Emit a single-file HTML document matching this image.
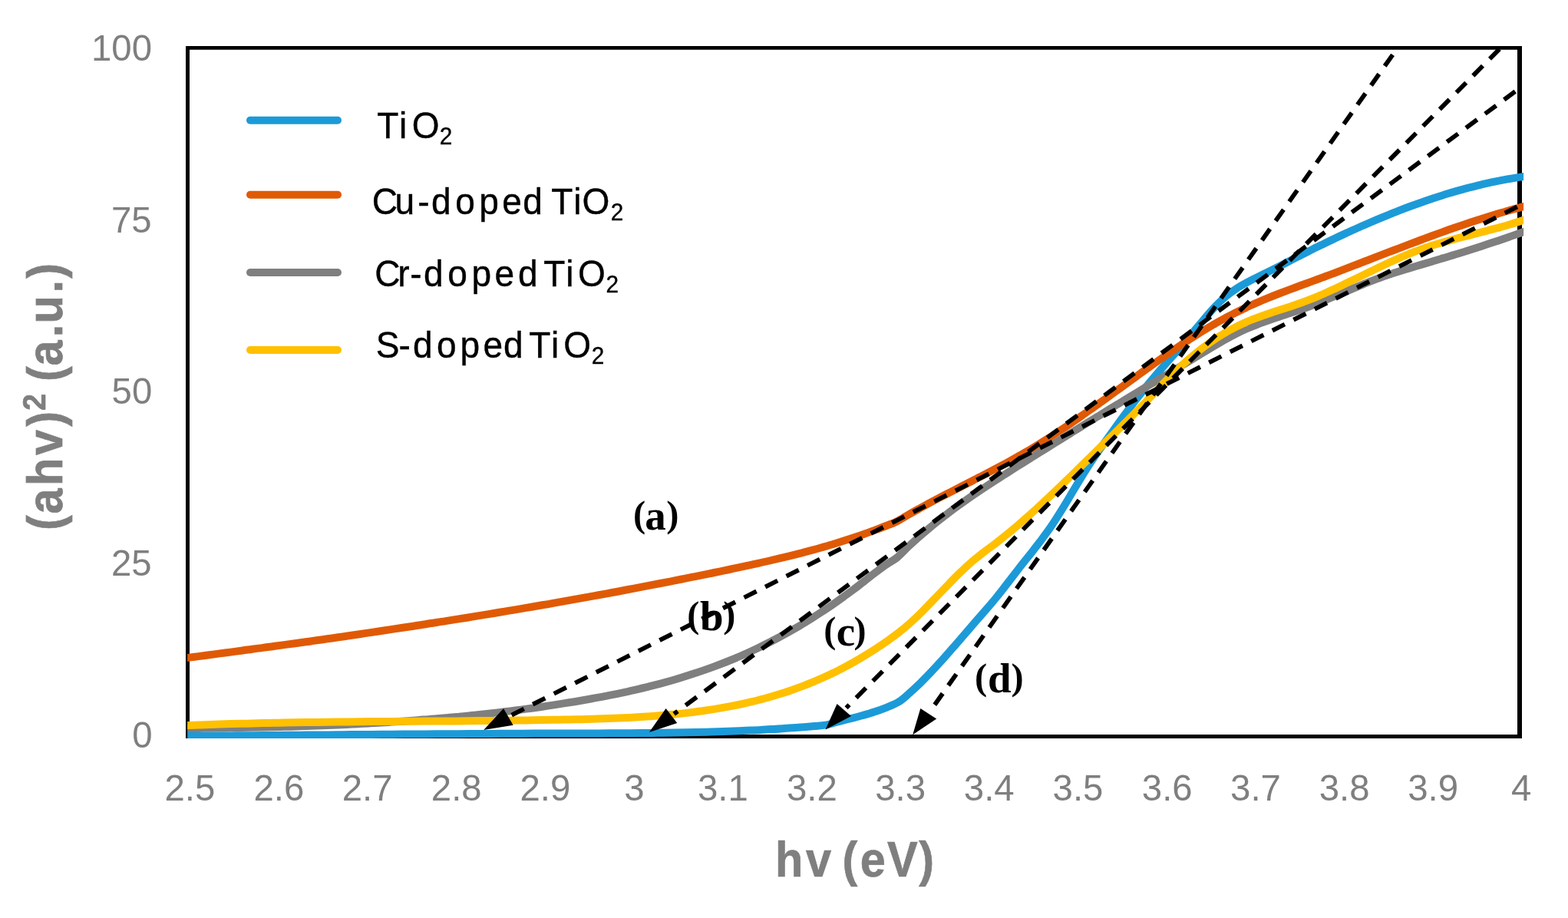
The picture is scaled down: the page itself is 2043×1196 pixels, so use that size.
<!DOCTYPE html>
<html><head><meta charset="utf-8"><title>Tauc plot</title>
<style>html,body{margin:0;padding:0;background:#fff}body{width:2043px;height:1196px;overflow:hidden}svg{display:block}
text{font-family:"Liberation Sans",sans-serif}
.ax{fill:#7f7f7f;font-size:48px}
.tt{fill:#7f7f7f;font-size:64px;font-weight:bold;stroke:#7f7f7f;stroke-width:.7px}
.lg{fill:#000;font-size:48px;stroke:#000;stroke-width:.4px}
.an{fill:#000;font-family:"Liberation Serif",serif;font-weight:bold}
</style></head><body>
<svg width="2043" height="1196" viewBox="0 0 2043 1196">
<rect width="2043" height="1196" fill="#fff"/>
<path d="M242 60H1983V961.9H242Z M247 64.8V957.1H1977V64.8Z" fill="#000" fill-rule="evenodd"/>
<clipPath id="cp"><rect x="244.2" y="55" width="1740.9" height="907"/></clipPath>
<g clip-path="url(#cp)" fill="none" stroke-width="10" stroke-linejoin="round">
<path d="M234.5 959.0C236.2 959.0 240.5 958.9 244.5 958.9C248.5 958.9 253.9 958.8 258.6 958.8C263.3 958.7 268.0 958.7 272.7 958.7C277.4 958.6 282.1 958.6 286.8 958.5C291.4 958.5 296.1 958.5 300.8 958.4C305.5 958.4 310.2 958.3 314.9 958.3C319.6 958.3 324.3 958.2 329.0 958.2C333.7 958.1 338.4 958.1 343.1 958.1C347.8 958.0 352.5 958.0 357.2 957.9C361.9 957.9 366.6 957.9 371.3 957.8C376.0 957.8 380.7 957.7 385.3 957.7C390.0 957.7 394.7 957.6 399.4 957.6C404.1 957.6 408.8 957.5 413.5 957.5C418.2 957.4 422.9 957.4 427.6 957.4C432.3 957.3 437.0 957.3 441.7 957.3C446.4 957.2 451.1 957.2 455.8 957.1C460.5 957.1 465.2 957.1 469.9 957.0C474.6 957.0 479.2 957.0 483.9 956.9C488.6 956.9 493.3 956.9 498.0 956.8C502.7 956.8 507.4 956.8 512.1 956.7C516.8 956.7 521.5 956.7 526.2 956.6C530.9 956.6 535.6 956.6 540.3 956.5C545.0 956.5 549.7 956.5 554.4 956.4C559.1 956.4 563.8 956.4 568.4 956.3C573.1 956.3 577.8 956.3 582.5 956.2C587.2 956.2 591.9 956.2 596.6 956.2C601.3 956.1 606.0 956.1 610.7 956.1C615.4 956.0 620.1 956.0 624.8 956.0C629.5 956.0 634.2 955.9 638.9 955.9C643.6 955.9 648.3 955.9 653.0 955.8C657.7 955.8 662.3 955.8 667.0 955.8C671.7 955.8 676.4 955.7 681.1 955.7C685.8 955.7 690.5 955.7 695.2 955.6C699.9 955.6 704.6 955.6 709.3 955.6C714.0 955.6 718.7 955.5 723.4 955.5C728.1 955.5 732.8 955.5 737.5 955.5C742.2 955.5 746.9 955.5 751.6 955.4C756.2 955.4 760.9 955.4 765.6 955.4C770.3 955.4 775.0 955.4 779.7 955.4C784.4 955.3 789.1 955.3 793.8 955.3C798.5 955.3 803.2 955.3 807.9 955.2C812.6 955.2 817.3 955.2 822.0 955.2C826.7 955.1 831.4 955.1 836.1 955.1C840.8 955.0 845.4 955.0 850.1 954.9C854.8 954.9 859.5 954.8 864.2 954.8C868.9 954.7 873.6 954.6 878.3 954.6C883.0 954.5 887.7 954.4 892.4 954.3C897.1 954.2 901.8 954.1 906.5 954.0C911.2 953.9 915.9 953.8 920.6 953.7C925.3 953.5 930.0 953.4 934.7 953.3C939.3 953.1 944.0 953.0 948.7 952.8C953.4 952.6 958.1 952.4 962.8 952.2C967.5 952.0 972.2 951.8 976.9 951.6C981.6 951.4 986.3 951.2 991.0 950.9C995.7 950.7 1000.4 950.4 1005.1 950.1C1009.8 949.9 1014.5 949.6 1019.2 949.3C1023.9 948.9 1028.6 948.6 1033.2 948.3C1037.9 947.9 1042.6 947.6 1047.3 947.2C1052.0 946.8 1056.7 946.4 1061.4 946.0C1066.1 945.6 1070.5 945.6 1075.5 944.7C1080.5 943.8 1086.1 941.9 1091.4 940.5C1096.7 939.1 1102.0 937.9 1107.3 936.5C1112.6 935.1 1117.9 933.8 1123.2 932.3C1128.4 930.8 1133.7 929.3 1139.0 927.5C1144.3 925.8 1149.6 923.9 1154.9 921.8C1160.2 919.6 1165.8 917.7 1170.8 914.6C1175.8 911.5 1180.3 907.1 1185.0 903.0C1189.7 898.8 1194.4 894.4 1199.2 889.8C1203.9 885.2 1208.6 880.3 1213.4 875.3C1218.1 870.3 1222.8 865.1 1227.6 859.9C1232.3 854.7 1237.0 849.3 1241.7 843.8C1246.5 838.4 1251.2 832.9 1255.9 827.5C1260.7 822.0 1265.4 816.5 1270.1 811.0C1274.9 805.6 1279.6 800.3 1284.3 794.8C1289.0 789.3 1293.8 783.9 1298.5 778.0C1303.2 772.2 1308.0 766.0 1312.7 759.9C1317.4 753.8 1322.2 747.5 1326.9 741.5C1331.6 735.4 1336.3 729.6 1341.1 723.6C1345.8 717.6 1350.5 711.7 1355.3 705.4C1360.0 699.1 1364.7 692.8 1369.5 685.9C1374.2 679.0 1378.9 671.5 1383.6 663.9C1388.4 656.3 1393.1 648.2 1397.8 640.3C1402.6 632.4 1407.3 624.3 1412.0 616.8C1416.8 609.2 1421.5 601.9 1426.2 595.0C1430.9 588.0 1435.7 581.5 1440.4 574.9C1445.1 568.2 1449.9 561.7 1454.6 555.2C1459.3 548.7 1464.0 542.2 1468.8 535.9C1473.5 529.5 1478.2 523.2 1483.0 517.2C1487.7 511.1 1492.4 505.1 1497.2 499.3C1501.9 493.6 1506.6 488.1 1511.3 482.6C1516.1 477.1 1520.8 471.8 1525.5 466.5C1530.3 461.1 1535.0 455.9 1539.7 450.4C1544.5 444.9 1549.2 439.4 1553.9 433.7C1558.6 428.1 1563.4 422.2 1568.1 416.7C1572.8 411.1 1577.6 405.5 1582.3 400.5C1587.0 395.5 1591.8 390.8 1596.5 386.8C1601.2 382.7 1605.9 379.3 1610.7 376.2C1615.4 373.1 1620.1 370.5 1624.9 367.9C1629.6 365.3 1634.3 363.1 1639.1 360.8C1643.8 358.4 1648.5 356.1 1653.2 353.8C1658.0 351.4 1662.7 349.0 1667.4 346.6C1672.2 344.2 1676.9 341.7 1681.6 339.3C1686.4 336.9 1691.1 334.4 1695.8 332.0C1700.5 329.6 1705.3 327.3 1710.0 324.9C1714.7 322.5 1719.5 320.2 1724.2 317.9C1728.9 315.6 1733.6 313.3 1738.4 311.1C1743.1 308.8 1747.8 306.6 1752.6 304.4C1757.3 302.3 1762.0 300.1 1766.8 298.0C1771.5 295.8 1776.2 293.8 1780.9 291.7C1785.7 289.6 1790.4 287.6 1795.1 285.6C1799.9 283.6 1804.6 281.7 1809.3 279.8C1814.1 277.9 1818.8 276.0 1823.5 274.2C1828.2 272.3 1833.0 270.5 1837.7 268.8C1842.4 267.0 1847.2 265.3 1851.9 263.7C1856.6 262.0 1861.4 260.4 1866.1 258.8C1870.8 257.2 1875.5 255.7 1880.3 254.2C1885.0 252.8 1889.7 251.3 1894.5 249.9C1899.2 248.6 1903.9 247.2 1908.7 245.9C1913.4 244.7 1918.1 243.4 1922.8 242.3C1927.6 241.1 1932.3 240.0 1937.0 238.9C1941.8 237.9 1946.5 236.8 1951.2 235.9C1956.0 235.0 1960.7 234.1 1965.4 233.2C1970.1 232.4 1975.2 231.6 1979.6 230.9C1984.0 230.2 1989.6 229.3 1991.6 229.0" stroke="#1c9ad8"/>
<path d="M234.5 858.2C236.2 858.0 240.5 857.4 244.5 856.9C248.5 856.4 253.8 855.7 258.5 855.1C263.2 854.5 267.8 853.9 272.5 853.3C277.2 852.7 281.8 852.0 286.5 851.4C291.2 850.8 295.8 850.2 300.5 849.6C305.2 849.0 309.8 848.3 314.5 847.7C319.2 847.1 323.9 846.5 328.5 845.8C333.2 845.2 337.9 844.6 342.5 843.9C347.2 843.3 351.9 842.7 356.5 842.0C361.2 841.4 365.9 840.7 370.5 840.1C375.2 839.5 379.9 838.8 384.5 838.2C389.2 837.5 393.9 836.9 398.5 836.2C403.2 835.6 407.9 834.9 412.5 834.2C417.2 833.6 421.9 832.9 426.5 832.2C431.2 831.6 435.9 830.9 440.5 830.2C445.2 829.6 449.9 828.9 454.5 828.2C459.2 827.5 463.9 826.9 468.5 826.2C473.2 825.5 477.9 824.8 482.6 824.1C487.2 823.4 491.9 822.7 496.6 822.0C501.2 821.3 505.9 820.6 510.6 819.9C515.2 819.2 519.9 818.5 524.6 817.8C529.2 817.1 533.9 816.4 538.6 815.7C543.2 814.9 547.9 814.2 552.6 813.5C557.2 812.8 561.9 812.1 566.6 811.3C571.2 810.6 575.9 809.9 580.6 809.1C585.2 808.4 589.9 807.6 594.6 806.9C599.2 806.2 603.9 805.4 608.6 804.7C613.2 803.9 617.9 803.1 622.6 802.4C627.2 801.6 631.9 800.9 636.6 800.1C641.3 799.3 645.9 798.6 650.6 797.8C655.3 797.0 659.9 796.2 664.6 795.4C669.3 794.7 673.9 793.9 678.6 793.1C683.3 792.3 687.9 791.5 692.6 790.7C697.3 789.9 701.9 789.1 706.6 788.3C711.3 787.5 715.9 786.7 720.6 785.8C725.3 785.0 729.9 784.2 734.6 783.4C739.3 782.6 743.9 781.7 748.6 780.9C753.3 780.1 757.9 779.2 762.6 778.4C767.3 777.5 771.9 776.7 776.6 775.8C781.3 775.0 786.0 774.1 790.6 773.3C795.3 772.4 800.0 771.5 804.6 770.7C809.3 769.8 814.0 768.9 818.6 768.0C823.3 767.2 828.0 766.3 832.6 765.4C837.3 764.5 842.0 763.6 846.6 762.7C851.3 761.8 856.0 760.9 860.6 760.0C865.3 759.1 870.0 758.2 874.6 757.3C879.3 756.4 884.0 755.4 888.6 754.5C893.3 753.6 898.0 752.6 902.6 751.7C907.3 750.8 912.0 749.8 916.6 748.9C921.3 747.9 926.0 747.0 930.6 746.0C935.3 745.0 940.0 744.1 944.7 743.1C949.3 742.1 954.0 741.2 958.7 740.2C963.3 739.2 968.0 738.2 972.7 737.2C977.3 736.2 982.0 735.2 986.7 734.1C991.3 733.1 996.0 732.1 1000.7 731.0C1005.3 729.9 1010.0 728.8 1014.7 727.7C1019.3 726.6 1024.0 725.5 1028.7 724.4C1033.3 723.2 1038.0 722.0 1042.7 720.8C1047.3 719.6 1052.0 718.4 1056.7 717.1C1061.3 715.9 1066.0 714.6 1070.7 713.2C1075.3 711.9 1080.0 710.6 1084.7 709.2C1089.3 707.8 1094.0 706.3 1098.7 704.8C1103.4 703.4 1108.0 701.9 1112.7 700.3C1117.4 698.7 1122.0 697.1 1126.7 695.5C1131.4 693.8 1136.0 692.2 1140.7 690.4C1145.4 688.7 1150.0 686.9 1154.7 685.0C1159.4 683.2 1164.0 681.7 1168.7 679.3C1173.4 677.0 1178.2 673.7 1182.9 671.0C1187.7 668.2 1192.4 665.6 1197.2 663.0C1201.9 660.3 1206.6 657.8 1211.4 655.2C1216.1 652.7 1220.9 650.2 1225.6 647.7C1230.3 645.2 1235.1 642.8 1239.8 640.3C1244.6 637.9 1249.3 635.5 1254.1 633.0C1258.8 630.6 1263.5 628.2 1268.3 625.7C1273.0 623.3 1277.8 620.9 1282.5 618.4C1287.3 615.9 1292.0 613.4 1296.7 610.9C1301.5 608.4 1306.2 605.9 1311.0 603.3C1315.7 600.7 1320.4 598.1 1325.2 595.4C1329.9 592.8 1334.7 590.0 1339.4 587.3C1344.2 584.5 1348.9 581.6 1353.6 578.7C1358.4 575.8 1363.1 572.8 1367.9 569.8C1372.6 566.7 1377.4 563.6 1382.1 560.4C1386.8 557.3 1391.6 554.1 1396.3 550.8C1401.1 547.6 1405.8 544.3 1410.5 540.9C1415.3 537.6 1420.0 534.2 1424.8 530.8C1429.5 527.5 1434.3 524.0 1439.0 520.6C1443.7 517.2 1448.5 513.7 1453.2 510.3C1458.0 506.8 1462.7 503.4 1467.5 499.9C1472.2 496.5 1476.9 493.0 1481.7 489.6C1486.4 486.2 1491.2 482.7 1495.9 479.4C1500.6 476.0 1505.4 472.6 1510.1 469.2C1514.9 465.9 1519.6 462.6 1524.4 459.3C1529.1 456.0 1533.8 452.8 1538.6 449.6C1543.3 446.5 1548.1 443.3 1552.8 440.3C1557.6 437.2 1562.3 434.2 1567.0 431.3C1571.8 428.4 1576.5 425.6 1581.3 422.8C1586.0 420.1 1590.7 417.4 1595.5 414.9C1600.2 412.3 1605.0 409.9 1609.7 407.5C1614.5 405.1 1619.2 402.8 1623.9 400.6C1628.7 398.4 1633.4 396.2 1638.2 394.2C1642.9 392.1 1647.7 390.1 1652.4 388.2C1657.1 386.2 1661.9 384.3 1666.6 382.5C1671.4 380.7 1676.1 378.9 1680.8 377.1C1685.6 375.3 1690.3 373.6 1695.1 371.8C1699.8 370.1 1704.6 368.3 1709.3 366.6C1714.0 364.9 1718.8 363.1 1723.5 361.4C1728.3 359.6 1733.0 357.8 1737.8 356.1C1742.5 354.3 1747.2 352.5 1752.0 350.7C1756.7 348.9 1761.5 347.0 1766.2 345.2C1770.9 343.4 1775.7 341.6 1780.4 339.7C1785.2 337.9 1789.9 336.1 1794.7 334.2C1799.4 332.4 1804.1 330.6 1808.9 328.7C1813.6 326.9 1818.4 325.1 1823.1 323.3C1827.9 321.5 1832.6 319.7 1837.3 317.9C1842.1 316.1 1846.8 314.3 1851.6 312.5C1856.3 310.7 1861.0 309.0 1865.8 307.2C1870.5 305.5 1875.3 303.8 1880.0 302.1C1884.8 300.4 1889.5 298.7 1894.2 297.1C1899.0 295.4 1903.7 293.8 1908.5 292.2C1913.2 290.6 1918.0 289.0 1922.7 287.4C1927.4 285.9 1932.2 284.4 1936.9 282.9C1941.7 281.4 1946.4 280.0 1951.1 278.6C1955.9 277.2 1960.6 275.8 1965.4 274.5C1970.1 273.1 1975.2 271.8 1979.6 270.6C1984.0 269.4 1989.6 267.9 1991.6 267.3" stroke="#e05a05"/>
<path d="M234.5 949.1C236.2 949.1 240.5 949.0 244.5 949.0C248.5 949.0 253.8 948.9 258.5 948.9C263.2 948.8 267.8 948.8 272.5 948.7C277.2 948.6 281.8 948.6 286.5 948.5C291.2 948.5 295.8 948.4 300.5 948.3C305.2 948.2 309.8 948.2 314.5 948.1C319.2 948.0 323.9 947.9 328.5 947.8C333.2 947.7 337.9 947.6 342.5 947.5C347.2 947.4 351.9 947.3 356.5 947.2C361.2 947.1 365.9 947.0 370.5 946.8C375.2 946.7 379.9 946.6 384.5 946.4C389.2 946.3 393.9 946.1 398.5 946.0C403.2 945.8 407.9 945.7 412.5 945.5C417.2 945.3 421.9 945.1 426.5 945.0C431.2 944.8 435.9 944.6 440.5 944.4C445.2 944.2 449.9 944.0 454.5 943.7C459.2 943.5 463.9 943.3 468.5 943.0C473.2 942.8 477.9 942.6 482.6 942.3C487.2 942.0 491.9 941.8 496.6 941.5C501.2 941.2 505.9 940.9 510.6 940.6C515.2 940.3 519.9 940.0 524.6 939.7C529.2 939.4 533.9 939.0 538.6 938.7C543.2 938.4 547.9 938.0 552.6 937.6C557.2 937.3 561.9 936.9 566.6 936.5C571.2 936.1 575.9 935.7 580.6 935.3C585.2 934.9 589.9 934.5 594.6 934.0C599.2 933.6 603.9 933.1 608.6 932.6C613.2 932.2 617.9 931.7 622.6 931.2C627.2 930.7 631.9 930.2 636.6 929.7C641.3 929.2 645.9 928.6 650.6 928.1C655.3 927.5 659.9 926.9 664.6 926.4C669.3 925.8 673.9 925.2 678.6 924.6C683.3 924.0 687.9 923.3 692.6 922.7C697.3 922.0 701.9 921.4 706.6 920.7C711.3 920.0 715.9 919.3 720.6 918.6C725.3 917.9 729.9 917.2 734.6 916.4C739.3 915.7 743.9 914.9 748.6 914.2C753.3 913.4 757.9 912.6 762.6 911.8C767.3 910.9 771.9 910.1 776.6 909.2C781.3 908.4 786.0 907.5 790.6 906.6C795.3 905.7 800.0 904.7 804.6 903.8C809.3 902.8 814.0 901.8 818.6 900.8C823.3 899.7 828.0 898.7 832.6 897.6C837.3 896.5 842.0 895.4 846.6 894.2C851.3 893.0 856.0 891.8 860.6 890.6C865.3 889.3 870.0 888.0 874.6 886.7C879.3 885.3 884.0 884.0 888.6 882.5C893.3 881.1 898.0 879.6 902.6 878.1C907.3 876.6 912.0 875.0 916.6 873.4C921.3 871.8 926.0 870.1 930.6 868.4C935.3 866.6 940.0 864.8 944.7 863.0C949.3 861.1 954.0 859.2 958.7 857.3C963.3 855.3 968.0 853.3 972.7 851.2C977.3 849.1 982.0 846.9 986.7 844.7C991.3 842.5 996.0 840.2 1000.7 837.8C1005.3 835.5 1010.0 833.0 1014.7 830.5C1019.3 828.1 1024.0 825.5 1028.7 822.9C1033.3 820.2 1038.0 817.5 1042.7 814.8C1047.3 812.0 1052.0 809.1 1056.7 806.2C1061.3 803.3 1066.0 800.3 1070.7 797.2C1075.3 794.2 1080.0 791.0 1084.7 787.8C1089.3 784.6 1094.0 781.3 1098.7 777.9C1103.4 774.6 1108.0 771.1 1112.7 767.6C1117.4 764.1 1122.0 760.4 1126.7 756.8C1131.4 753.1 1136.0 749.4 1140.7 745.8C1145.4 742.3 1150.0 738.7 1154.7 735.5C1159.4 732.2 1164.0 730.3 1168.7 726.5C1173.4 722.7 1178.2 717.2 1182.9 712.7C1187.7 708.3 1192.4 704.0 1197.2 699.8C1201.9 695.6 1206.6 691.6 1211.4 687.6C1216.1 683.7 1220.9 679.9 1225.6 676.1C1230.3 672.4 1235.1 668.8 1239.8 665.2C1244.6 661.7 1249.3 658.2 1254.1 654.9C1258.8 651.5 1263.5 648.2 1268.3 644.9C1273.0 641.7 1277.8 638.5 1282.5 635.3C1287.3 632.2 1292.0 629.1 1296.7 626.0C1301.5 623.0 1306.2 619.9 1311.0 616.9C1315.7 613.9 1320.4 610.9 1325.2 607.9C1329.9 605.0 1334.7 602.0 1339.4 599.0C1344.2 596.0 1348.9 593.1 1353.6 590.1C1358.4 587.1 1363.1 584.2 1367.9 581.2C1372.6 578.3 1377.4 575.3 1382.1 572.4C1386.8 569.4 1391.6 566.5 1396.3 563.5C1401.1 560.6 1405.8 557.7 1410.5 554.7C1415.3 551.8 1420.0 548.9 1424.8 546.0C1429.5 543.1 1434.3 540.2 1439.0 537.2C1443.7 534.3 1448.5 531.4 1453.2 528.5C1458.0 525.7 1462.7 522.8 1467.5 519.9C1472.2 517.0 1476.9 514.1 1481.7 511.2C1486.4 508.4 1491.2 505.5 1495.9 502.6C1500.6 499.8 1505.4 496.9 1510.1 494.1C1514.9 491.2 1519.6 488.4 1524.4 485.5C1529.1 482.7 1533.8 479.8 1538.6 477.0C1543.3 474.1 1548.1 471.3 1552.8 468.4C1557.6 465.5 1562.3 462.6 1567.0 459.7C1571.8 456.9 1576.5 453.9 1581.3 451.1C1586.0 448.3 1590.7 445.5 1595.5 442.8C1600.2 440.2 1605.0 437.6 1609.7 435.2C1614.5 432.8 1619.2 430.6 1623.9 428.5C1628.7 426.4 1633.4 424.5 1638.2 422.7C1642.9 420.9 1647.7 419.2 1652.4 417.5C1657.1 415.9 1661.9 414.3 1666.6 412.7C1671.4 411.2 1676.1 409.6 1680.8 408.1C1685.6 406.5 1690.3 404.9 1695.1 403.2C1699.8 401.5 1704.6 399.8 1709.3 398.0C1714.0 396.2 1718.8 394.3 1723.5 392.4C1728.3 390.4 1733.0 388.5 1737.8 386.5C1742.5 384.5 1747.2 382.5 1752.0 380.5C1756.7 378.5 1761.5 376.4 1766.2 374.5C1770.9 372.5 1775.7 370.5 1780.4 368.6C1785.2 366.7 1789.9 364.9 1794.7 363.1C1799.4 361.4 1804.1 359.7 1808.9 358.1C1813.6 356.4 1818.4 354.9 1823.1 353.4C1827.9 352.0 1832.6 350.5 1837.3 349.1C1842.1 347.7 1846.8 346.3 1851.6 344.9C1856.3 343.5 1861.0 342.1 1865.8 340.7C1870.5 339.2 1875.3 337.8 1880.0 336.4C1884.8 335.0 1889.5 333.5 1894.2 332.1C1899.0 330.6 1903.7 329.1 1908.5 327.7C1913.2 326.2 1918.0 324.7 1922.7 323.2C1927.4 321.7 1932.2 320.1 1936.9 318.6C1941.7 317.0 1946.4 315.5 1951.1 313.9C1955.9 312.3 1960.6 310.7 1965.4 309.0C1970.1 307.4 1975.2 305.5 1979.6 304.0C1984.0 302.4 1989.6 300.5 1991.6 299.8" stroke="#7f7f7f"/>
<path d="M234.5 945.5C236.2 945.4 240.5 945.3 244.5 945.1C248.5 944.9 253.9 944.7 258.5 944.5C263.2 944.4 267.9 944.2 272.6 944.0C277.2 943.9 281.9 943.7 286.6 943.6C291.3 943.4 296.0 943.3 300.6 943.1C305.3 943.0 310.0 942.9 314.7 942.8C319.4 942.6 324.0 942.5 328.7 942.4C333.4 942.3 338.1 942.2 342.7 942.1C347.4 942.0 352.1 941.9 356.8 941.8C361.5 941.7 366.1 941.6 370.8 941.5C375.5 941.4 380.2 941.3 384.8 941.3C389.5 941.2 394.2 941.1 398.9 941.1C403.6 941.0 408.2 940.9 412.9 940.9C417.6 940.8 422.3 940.7 427.0 940.7C431.6 940.6 436.3 940.6 441.0 940.5C445.7 940.5 450.3 940.4 455.0 940.4C459.7 940.3 464.4 940.3 469.1 940.3C473.7 940.2 478.4 940.2 483.1 940.1C487.8 940.1 492.4 940.1 497.1 940.0C501.8 940.0 506.5 940.0 511.2 939.9C515.8 939.9 520.5 939.9 525.2 939.8C529.9 939.8 534.6 939.8 539.2 939.7C543.9 939.7 548.6 939.7 553.3 939.6C557.9 939.6 562.6 939.6 567.3 939.6C572.0 939.5 576.7 939.5 581.3 939.5C586.0 939.4 590.7 939.4 595.4 939.4C600.0 939.3 604.7 939.3 609.4 939.2C614.1 939.2 618.8 939.2 623.4 939.1C628.1 939.1 632.8 939.0 637.5 939.0C642.2 939.0 646.8 938.9 651.5 938.9C656.2 938.8 660.9 938.7 665.5 938.7C670.2 938.6 674.9 938.6 679.6 938.5C684.3 938.4 688.9 938.4 693.6 938.3C698.3 938.2 703.0 938.2 707.6 938.1C712.3 938.0 717.0 937.9 721.7 937.8C726.4 937.8 731.0 937.7 735.7 937.6C740.4 937.5 745.1 937.4 749.8 937.3C754.4 937.2 759.1 937.1 763.8 936.9C768.5 936.8 773.1 936.7 777.8 936.5C782.5 936.4 787.2 936.2 791.9 936.1C796.5 935.9 801.2 935.7 805.9 935.5C810.6 935.3 815.3 935.1 819.9 934.9C824.6 934.6 829.3 934.4 834.0 934.1C838.6 933.8 843.3 933.5 848.0 933.2C852.7 932.8 857.4 932.5 862.0 932.1C866.7 931.7 871.4 931.3 876.1 930.8C880.7 930.4 885.4 929.9 890.1 929.4C894.8 928.8 899.5 928.3 904.1 927.7C908.8 927.1 913.5 926.5 918.2 925.8C922.9 925.1 927.5 924.4 932.2 923.6C936.9 922.9 941.6 922.1 946.2 921.2C950.9 920.3 955.6 919.4 960.3 918.5C965.0 917.5 969.6 916.5 974.3 915.4C979.0 914.3 983.7 913.2 988.3 912.0C993.0 910.8 997.7 909.5 1002.4 908.2C1007.1 906.9 1011.7 905.5 1016.4 904.0C1021.1 902.5 1025.8 901.0 1030.5 899.4C1035.1 897.8 1039.8 896.1 1044.5 894.4C1049.2 892.6 1053.8 890.7 1058.5 888.8C1063.2 886.9 1067.9 884.9 1072.6 882.8C1077.2 880.7 1081.9 878.5 1086.6 876.2C1091.3 874.0 1095.9 871.6 1100.6 869.1C1105.3 866.6 1110.0 864.1 1114.7 861.4C1119.3 858.8 1124.0 856.0 1128.7 853.1C1133.4 850.2 1138.1 847.3 1142.7 844.2C1147.4 841.1 1152.1 837.9 1156.8 834.6C1161.4 831.3 1165.8 828.2 1170.8 824.3C1175.8 820.4 1181.3 815.8 1186.5 811.1C1191.8 806.4 1197.0 801.2 1202.3 796.0C1207.5 790.8 1212.8 785.3 1218.0 779.8C1223.3 774.4 1228.5 768.8 1233.8 763.4C1239.0 758.0 1244.3 752.5 1249.5 747.4C1254.8 742.3 1260.0 737.3 1265.3 732.7C1270.5 728.1 1276.0 723.9 1281.0 720.0C1286.0 716.1 1290.5 713.1 1295.3 709.5C1300.0 705.8 1304.8 702.1 1309.5 698.2C1314.3 694.4 1319.0 690.4 1323.8 686.4C1328.5 682.3 1333.3 678.2 1338.0 674.0C1342.8 669.8 1347.5 665.5 1352.3 661.1C1357.0 656.8 1361.8 652.3 1366.5 647.9C1371.3 643.4 1376.0 638.9 1380.8 634.3C1385.6 629.7 1390.3 625.1 1395.1 620.5C1399.8 615.9 1404.6 611.2 1409.3 606.6C1414.1 601.9 1418.8 597.3 1423.6 592.6C1428.3 587.9 1433.1 583.3 1437.8 578.6C1442.6 574.0 1447.3 569.3 1452.1 564.7C1456.8 560.0 1461.6 555.3 1466.3 550.6C1471.1 545.9 1475.8 541.1 1480.6 536.3C1485.4 531.4 1490.1 526.5 1494.9 521.5C1499.6 516.6 1504.4 511.5 1509.1 506.6C1513.9 501.6 1518.6 496.7 1523.4 491.9C1528.1 487.2 1532.9 482.5 1537.6 478.1C1542.4 473.7 1547.1 469.4 1551.9 465.4C1556.6 461.3 1561.4 457.5 1566.1 453.9C1570.9 450.2 1575.6 446.8 1580.4 443.6C1585.2 440.3 1589.9 437.3 1594.7 434.5C1599.4 431.6 1604.2 429.0 1608.9 426.6C1613.7 424.1 1618.4 421.9 1623.2 419.8C1627.9 417.7 1632.7 415.9 1637.4 414.1C1642.2 412.3 1646.9 410.6 1651.7 409.0C1656.4 407.4 1661.2 405.8 1665.9 404.3C1670.7 402.7 1675.4 401.2 1680.2 399.7C1685.0 398.1 1689.7 396.5 1694.5 394.8C1699.2 393.1 1704.0 391.3 1708.7 389.4C1713.5 387.5 1718.2 385.5 1723.0 383.5C1727.7 381.4 1732.5 379.2 1737.2 377.0C1742.0 374.9 1746.7 372.6 1751.5 370.3C1756.2 368.0 1761.0 365.7 1765.7 363.4C1770.5 361.1 1775.2 358.7 1780.0 356.4C1784.8 354.1 1789.5 351.8 1794.3 349.5C1799.0 347.2 1803.8 344.9 1808.5 342.7C1813.3 340.5 1818.0 338.4 1822.8 336.3C1827.5 334.3 1832.3 332.2 1837.0 330.3C1841.8 328.5 1846.5 326.6 1851.3 324.9C1856.0 323.2 1860.8 321.7 1865.5 320.1C1870.3 318.6 1875.0 317.2 1879.8 315.8C1884.6 314.4 1889.3 313.1 1894.1 311.8C1898.8 310.5 1903.6 309.3 1908.3 308.1C1913.1 306.9 1917.8 305.7 1922.6 304.5C1927.3 303.2 1932.1 302.0 1936.8 300.8C1941.6 299.6 1946.3 298.3 1951.1 297.0C1955.8 295.7 1960.6 294.4 1965.3 293.0C1970.1 291.6 1975.2 289.9 1979.6 288.6C1984.0 287.2 1989.6 285.5 1991.6 284.9" stroke="#ffc000"/>
</g>
<g fill="none" stroke-width="10" stroke-linecap="round">
<path d="M326 156.8H440" stroke="#1c9ad8"/>
<path d="M326 253.8H440" stroke="#e05a05"/>
<path d="M326 355.0H440" stroke="#7f7f7f"/>
<path d="M326 456.0H440" stroke="#ffc000"/>
</g>
<g stroke="#000" stroke-width="5.8" stroke-dasharray="18 12.85" fill="none">
<path d="M1976.8 269.4L665.9 932.0"/>
<path d="M1974.2 119.2L878.2 930.1"/>
<path d="M1953.7 63.9L1102.6 922.2"/>
<path d="M1814.6 71.3L1212.1 926.4"/>
</g>
<g fill="#000">
<path d="M630.2 950.9L656.1 923.0L668.6 944.7Z"/>
<path d="M845.9 954.0L867.6 923.0L882.3 941.9Z"/>
<path d="M1075.5 950.6L1090.6 917.1L1109.0 933.0Z"/>
<path d="M1189.2 957.3L1199.3 923.0L1220.2 936.4Z"/>
</g>
<text class="ax" transform="translate(214.5 1042.9) scale(0.987 1)">2.5</text>
<text class="ax" transform="translate(330.4 1042.9) scale(0.987 1)">2.6</text>
<text class="ax" transform="translate(445.7 1042.9) scale(0.987 1)">2.7</text>
<text class="ax" transform="translate(561.8 1042.9) scale(0.987 1)">2.8</text>
<text class="ax" transform="translate(677.4 1042.9) scale(0.987 1)">2.9</text>
<text class="ax" transform="translate(813.3 1042.9) scale(0.987 1)">3</text>
<text class="ax" transform="translate(908.9 1042.9) scale(0.987 1)">3.1</text>
<text class="ax" transform="translate(1024.9 1042.9) scale(0.987 1)">3.2</text>
<text class="ax" transform="translate(1140.2 1042.9) scale(0.987 1)">3.3</text>
<text class="ax" transform="translate(1255.8 1042.9) scale(0.987 1)">3.4</text>
<text class="ax" transform="translate(1371.6 1042.9) scale(0.987 1)">3.5</text>
<text class="ax" transform="translate(1487.8 1042.9) scale(0.987 1)">3.6</text>
<text class="ax" transform="translate(1603.1 1042.9) scale(0.987 1)">3.7</text>
<text class="ax" transform="translate(1718.7 1042.9) scale(0.987 1)">3.8</text>
<text class="ax" transform="translate(1834.2 1042.9) scale(0.987 1)">3.9</text>
<text class="ax" transform="translate(1968.9 1042.9) scale(0.987 1)">4</text>
<text class="ax" transform="translate(119 78.6) scale(0.987 1)">100</text>
<text class="ax" transform="translate(144.9 302.7) scale(0.987 1)">75</text>
<text class="ax" transform="translate(145.6 525.7) scale(0.987 1)">50</text>
<text class="ax" transform="translate(145 750) scale(0.987 1)">25</text>
<text class="ax" transform="translate(172.3 973.5) scale(0.987 1)">0</text>
<text class="lg" transform="translate(0 179.9) scale(0.96 1)" x="511.8 541.6 559.1" y="0">TiO<tspan font-size="31" x="596.6" y="7.9">2</tspan></text>
<text class="lg" transform="translate(0 278.9) scale(0.96 1)" x="505 536 567 585.5 617.9 650.2 681.6 709.6 736.3 748.3 778.4 790" y="0">Cu-doped TiO<tspan font-size="31" x="828.8" y="7.9">2</tspan></text>
<text class="lg" transform="translate(0 372.6) scale(0.96 1)" x="508.5 539.8 556.5 575 607.5 640 671.3 703.2 729.9 737.9 767.9 784.3" y="0">Cr-doped TiO<tspan font-size="31" x="822.4" y="7.9">2</tspan></text>
<text class="lg" transform="translate(0 465.9) scale(0.96 1)" x="510.1 541.1 560.3 592.8 624.4 655.7 683.3 710 718.1 748 764.8" y="0">S-doped TiO<tspan font-size="31" x="802.8" y="7.9">2</tspan></text>
<text class="tt" transform="translate(0 1141.5) scale(0.93 1)" x="1086.1 1129.1 1164.7 1180.2 1205.1 1243.1 1287.3" y="0">hv (eV)</text>
<text class="tt" transform="translate(81.1 0) rotate(-90) scale(0.93 1)" x="-743 -720 -680.7 -637.7 -597.6" y="0">(ahv)<tspan font-size="42" x="-575.1" y="-22.2">2</tspan><tspan x="-551.7 -534.5 -512.5 -472.4 -453.3 -410.1 -390" y="0"> (a.u.)</tspan></text>
<text class="an" font-size="48.7"><tspan x="825" y="685.5">(</tspan><tspan font-size="55" x="840.3" y="690.1">a</tspan><tspan x="868.3" y="685.5">)</tspan></text>
<text class="an" font-size="48.3"><tspan x="895.2" y="816.5">(</tspan><tspan font-size="55" x="912.1" y="821.4">b</tspan><tspan x="942.3" y="816.5">)</tspan></text>
<text class="an" font-size="48.3"><tspan x="1073.2" y="836.5">(</tspan><tspan font-size="55" x="1089.7" y="841.4">c</tspan><tspan x="1112.4" y="836.5">)</tspan></text>
<text class="an" font-size="48.5"><tspan x="1270.1" y="897.6">(</tspan><tspan font-size="55" x="1286.9" y="902.2">d</tspan><tspan x="1317.4" y="897.6">)</tspan></text>
</svg>
</body></html>
